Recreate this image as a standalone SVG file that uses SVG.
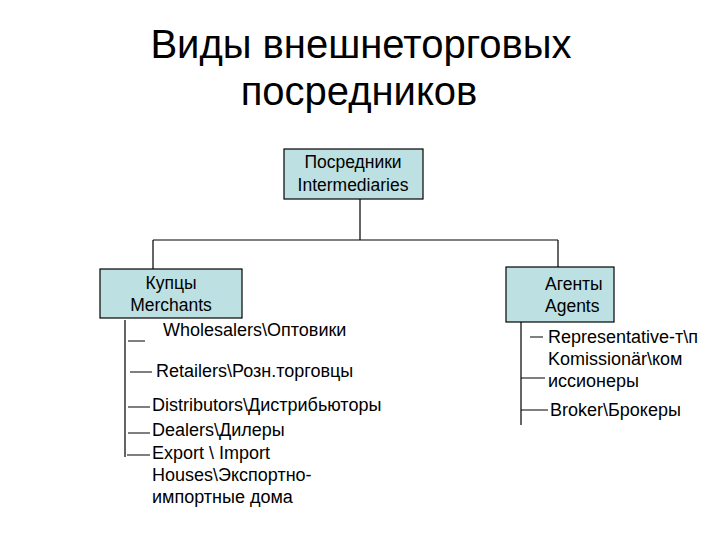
<svg xmlns="http://www.w3.org/2000/svg" width="720" height="540" viewBox="0 0 720 540">
<style>
text{font-family:"Liberation Sans",Arial,sans-serif;fill:#000}
.t{font-size:40px;text-anchor:middle}
.b{font-size:17.5px}
.s{font-size:18px}
.c{text-anchor:middle}
.box{fill:#bde0e2;stroke:#000;stroke-width:1.2}
.ln{fill:none;stroke:#000;stroke-width:1.2}
</style>
<rect width="720" height="540" fill="#fff"/>
<g id="title">
<text class="t" x="361" y="58">Виды внешнеторговых</text>
<text class="t" x="359" y="105">посредников</text>
</g>
<g id="connectors">
<path class="ln" d="M360 199V240M153 240H558M153 240V269M558 240V267"/>
<path class="ln" d="M125 320V457M128 341H145M130 372H152M128 407H150M128 433H150M127 455H150"/>
<path class="ln" d="M521 322V425M530 337H543M521 378H545M521 410H548"/>
</g>
<g id="root">
<rect class="box" x="284" y="149" width="139" height="50"/>
<text class="b c" x="353" y="168">Посредники</text>
<text class="b c" x="353" y="191">Intermediaries</text>
</g>
<g id="merchants">
<rect class="box" x="100" y="269" width="142" height="49"/>
<text class="b c" x="171" y="289">Купцы</text>
<text class="b c" x="171" y="311">Merchants</text>
</g>
<g id="agents">
<rect class="box" x="506" y="267" width="108" height="55"/>
<text class="b" x="545" y="290">Агенты</text>
<text class="b" x="545" y="312">Agents</text>
</g>
<g id="merchant-items">
<text class="s" x="163" y="336">Wholesalers\Оптовики</text>
<text class="s" x="156" y="377">Retailers\Розн.торговцы</text>
<text class="s" x="152" y="411">Distributors\Дистрибьюторы</text>
<text class="s" x="152" y="436">Dealers\Дилеры</text>
<text class="s" x="152" y="459">Export \ Import</text>
<text class="s" x="152" y="481">Houses\Экспортно-</text>
<text class="s" x="152" y="503">импортные дома</text>
</g>
<g id="agent-items">
<text class="s" x="548" y="343">Representative-т\п</text>
<text class="s" x="548" y="365">Komissionär\ком</text>
<text class="s" x="548" y="387">иссионеры</text>
<text class="s" x="550" y="416">Broker\Брокеры</text>
</g>
</svg>
